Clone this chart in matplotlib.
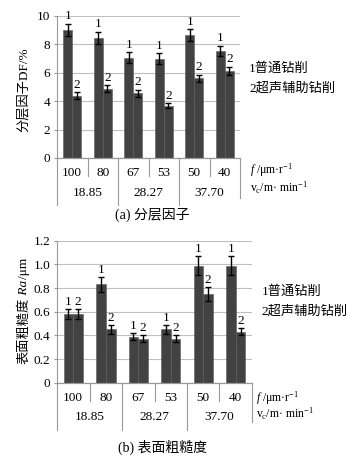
import matplotlib
matplotlib.use("Agg")
import matplotlib.pyplot as plt
import numpy as np

plt.rcParams['font.family'] = ['Liberation Serif', 'Noto Sans CJK SC']
plt.rcParams['mathtext.fontset'] = 'custom'
plt.rcParams['mathtext.rm'] = 'Liberation Serif'
plt.rcParams['mathtext.it'] = 'Liberation Serif:italic'

# -----------------------------
# Data
# -----------------------------
feeds = ["100", "80", "67", "53", "50", "40"]
speeds = ["18.85", "28.27", "37.70"]

df_normal = [9.02, 8.48, 7.07, 6.98, 8.67, 7.54]
df_normal_err = [0.45, 0.42, 0.40, 0.38, 0.42, 0.36]
df_ultra = [4.40, 4.87, 4.57, 3.68, 5.62, 6.14]
df_ultra_err = [0.25, 0.25, 0.25, 0.18, 0.25, 0.28]

ra_normal = [0.58, 0.83, 0.39, 0.45, 0.99, 0.99]
ra_normal_err = [0.04, 0.06, 0.03, 0.035, 0.08, 0.08]
ra_ultra = [0.58, 0.45, 0.37, 0.37, 0.75, 0.43]
ra_ultra_err = [0.04, 0.035, 0.03, 0.03, 0.06, 0.03]

BAR = "#424242"
GRID = "#bfbfbf"
FS = 9.5
W, H = 360, 457


def draw(ax, a, a_err, b, b_err, ymax, ystep, label_off, legend_y):
    x = np.arange(len(feeds))
    w = 0.3
    ax.bar(x - w / 2, a, w, color=BAR, edgecolor="#5a5a5a", linewidth=0.4, zorder=3)
    ax.bar(x + w / 2, b, w, color=BAR, edgecolor="#5a5a5a", linewidth=0.4, zorder=3)
    ax.errorbar(x - w / 2, a, yerr=a_err, fmt="none", ecolor="black",
                elinewidth=1, capsize=2, capthick=1, zorder=4)
    ax.errorbar(x + w / 2, b, yerr=b_err, fmt="none", ecolor="black",
                elinewidth=1, capsize=2, capthick=1, zorder=4)
    for i in range(len(feeds)):
        ax.text(x[i] - w / 2, a[i] + a_err[i] + label_off, "1", ha="center",
                va="bottom", fontsize=FS, zorder=5)
        ax.text(x[i] + w / 2, b[i] + b_err[i] + label_off, "2", ha="center",
                va="bottom", fontsize=FS, zorder=5)

    ax.set_xlim(-0.5, len(feeds) - 0.5)
    ax.set_ylim(0, ymax)
    ax.set_yticks(np.arange(0, ymax + ystep / 2, ystep))
    ax.yaxis.grid(True, color=GRID, linewidth=0.8, zorder=0)
    ax.set_axisbelow(True)
    for s in ["top", "right", "bottom"]:
        ax.spines[s].set_visible(False)
    ax.spines["left"].set_color("#999999")
    ax.spines["left"].set_linewidth(0.8)
    ax.tick_params(axis="y", length=2, width=0.8, color="#999999",
                   labelsize=FS, pad=3)
    ax.set_xticks([])

    # category box below the axis
    tr = ax.get_xaxis_transform()
    ax.plot([-0.5, len(feeds) - 0.5], [0, 0], color="#999999", lw=0.9,
            transform=tr, clip_on=False, zorder=5)
    for k in range(len(feeds) + 1):
        xb = k - 0.5
        if k == len(feeds):
            y1 = -0.28
        elif k % 2 == 0:
            y1 = -0.33
        else:
            y1 = -0.13
        ax.plot([xb, xb], [0, y1], color="#999999", lw=0.8, transform=tr,
                clip_on=False)
    for i, f in enumerate(feeds):
        ax.text(i, -0.105, f, ha="center", va="center", fontsize=FS,
                transform=tr)
    for j, v in enumerate(speeds):
        ax.text(2 * j + 0.5, -0.245, v, ha="center", va="center",
                fontsize=FS, transform=tr)

    # side labels
    ax.text(1.05, legend_y, "1普通钻削", ha="left", va="center",
            fontsize=FS, transform=ax.transAxes)
    ax.text(1.05, legend_y - 0.14, "2超声辅助钻削", ha="left", va="center",
            fontsize=FS, transform=ax.transAxes)


def rotated_label(fig, pieces, x_px, yc_px):
    # pieces: (text, style) stacked bottom-to-top on one baseline
    r = fig.canvas.get_renderer()
    widths = []
    for s, st in pieces:
        t = fig.text(0, 0, s, fontsize=FS, style=st)
        widths.append(t.get_window_extent(r).width)
        t.remove()
    y = yc_px - sum(widths) / 2
    for (s, st), wd in zip(pieces, widths):
        fig.text(x_px / W, y / H, s, fontsize=FS, style=st, rotation=90,
                 rotation_mode="anchor", ha="left", va="baseline")
        y += wd


fig = plt.figure(figsize=(3.6, 4.57), dpi=100)
fig.canvas.draw()

ax1 = fig.add_axes([57 / W, 1 - 158 / H, 183 / W, 142 / H])
draw(ax1, df_normal, df_normal_err, df_ultra, df_ultra_err, 10, 2, 0.1, 0.63)
rotated_label(fig, [("分层因子DF/%", "normal")], 27, H - 90)
fig.text(250 / W, 1 - 170 / H, r"$f$ /μm·r$^{-1}$", fontsize=FS - 1,
         va="center", ha="left")
fig.text(250 / W, 1 - 188 / H, r"v$_{\mathrm{c}}$/m· min$^{-1}$",
         fontsize=FS - 1, va="center", ha="left")
fig.text(152 / W, 1 - 215 / H, "(a) 分层因子", fontsize=FS + 0.5,
         ha="center", va="center")

ax2 = fig.add_axes([57 / W, 1 - 382.7 / H, 195 / W, 142 / H])
draw(ax2, ra_normal, ra_normal_err, ra_ultra, ra_ultra_err, 1.2, 0.2, 0.01, 0.64)
ax2.set_yticklabels(["0", "0.2", "0.4", "0.6", "0.8", "1.0", "1.2"])
rotated_label(fig, [("表面粗糙度", "normal"), (" Ra", "italic"), ("/μm", "normal")],
              27, H - 311)
fig.text(256 / W, 1 - 398 / H, r"$f$ /μm·r$^{-1}$", fontsize=FS - 1,
         va="center", ha="left")
fig.text(256 / W, 1 - 414 / H, r"v$_{\mathrm{c}}$/m· min$^{-1}$",
         fontsize=FS - 1, va="center", ha="left")
fig.text(162 / W, 1 - 447 / H, "(b) 表面粗糙度", fontsize=FS + 0.5,
         ha="center", va="center")

fig.savefig("out.png", dpi=100)
